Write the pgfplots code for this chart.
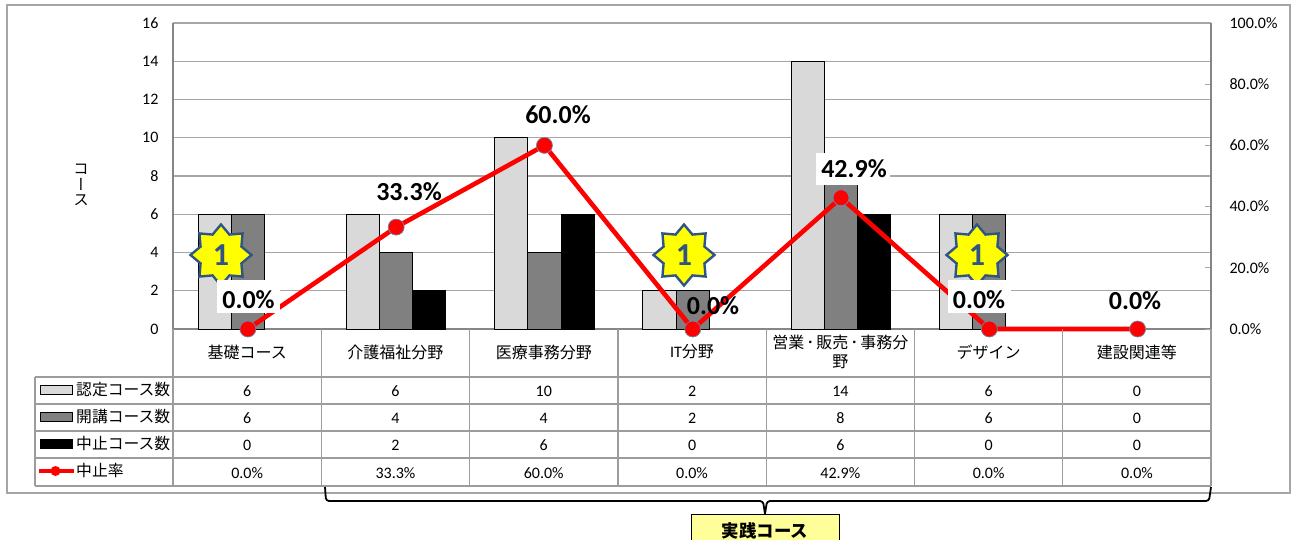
\documentclass[border=0pt]{standalone}
\usepackage{pgfplots}
\usepackage{pgfplotstable}
\pgfplotsset{compat=1.18}
\usepackage{fontspec}
\setmainfont{Carlito}
\newfontfamily\cjk{Noto Sans CJK JP}
\newfontfamily\cjkv[RawFeature=+vert]{Noto Sans CJK JP}
\usetikzlibrary{shapes.geometric}
\definecolor{gridc}{HTML}{A6A6A6}
\definecolor{axc}{HTML}{868686}
\definecolor{tabc}{HTML}{9C9C9C}
\definecolor{starb}{HTML}{2F5587}
\definecolor{sty}{HTML}{FFFF00}
\definecolor{boxy}{HTML}{FFFF99}
\pgfplotstableread{
pos a b c r
0 6 6 0 0.0
1 6 4 2 33.3
2 10 4 6 60.0
3 2 2 0 0.0
4 14 8 6 42.9
5 6 6 0 0.0
6 0 0 0 0.0
}\datatable
\begin{document}
\begin{tikzpicture}
\useasboundingbox (0,0) rectangle (1292pt,539pt);
\begin{scope}[x=1pt,y=-1pt,shift={(0pt,539pt)}]
\draw[gridc,line width=1.5pt] (7,5) rectangle (1290,493);
\end{scope}
\begin{axis}[
  at={(173pt,210pt)},anchor=south west,scale only axis,width=1038pt,height=306pt,
  xmin=-0.505,xmax=6.495,ymin=0,ymax=16,
  ytick={0,2,...,16},xtick=\empty,
  ymajorgrids,grid style={gridc,line width=1.2pt},
  axis line style={axc,line width=1.6pt},
  axis y line*=left,axis x line*=bottom,
  tick style={draw=none},
  yticklabel style={font=\fontsize{16}{18}\selectfont,xshift=-11pt},
  /pgf/number format/assume math mode=true,
  ybar=0pt,bar width=33.2pt,
  restrict y to domain=0.5:20,
]
\addplot[fill=black!15,draw=black,line width=1pt] table[x=pos,y=a]{\datatable};
\addplot[fill=black!50,draw=black,line width=1pt] table[x=pos,y=b]{\datatable};
\addplot[fill=black,draw=black,line width=1pt] table[x=pos,y=c]{\datatable};
\end{axis}
\begin{axis}[
  at={(173pt,210pt)},anchor=south west,scale only axis,width=1038pt,height=306pt,
  xmin=-0.505,xmax=6.495,ymin=0,ymax=100,
  ytick={0,20,...,100},xtick=\empty,
  axis y line*=right,axis x line=none,
  axis line style={axc,line width=1.6pt},
  tick style={gridc,line width=1pt},
  major tick length=6pt,
  yticklabel style={font=\fontsize{16}{18}\selectfont,xshift=15pt},
  yticklabel={\pgfmathprintnumber[fixed,fixed zerofill,precision=1]{\tick}\%},
  /pgf/number format/assume math mode=true,
  clip=false,
]
\addplot[red,line width=4.6pt,mark=*,mark size=8pt,mark options={fill=red,draw=starb!70,line width=0.7pt}] table[x=pos,y=r]{\datatable};
\end{axis}
\begin{scope}[x=1pt,y=-1pt,shift={(0pt,539pt)}]
% table grid
\draw[tabc,line width=1.2pt]
  (173,329)--(173,486) (35,377)--(1211,377) (35,404)--(1211,404) (35,431)--(1211,431)
  (35,458)--(1211,458) (35,486)--(1211,486) (35,377)--(35,486) (1211,329)--(1211,486);
\foreach \i in {1,...,6} \draw[tabc,line width=1.2pt] ({173+148.3*\i},329)--({173+148.3*\i},486);
% category names
\foreach \i/\t in {0/基礎コース,1/介護福祉分野,2/医療事務分野,4/{営業\kern2pt ･\kern2pt 販売\kern2pt ･\kern2pt 事務分\\野},5/デザイン,6/建設関連等}
  \node[font=\cjk\fontsize{16}{19}\selectfont,align=center,inner sep=0] at ({173+148.3*(\i+.5)},352) {\t};
\node[font=\fontsize{16}{19}\selectfont,inner sep=0] at ({173+148.3*3.5},352) {IT{\cjk 分野}};
% table values
\foreach \i/\a/\b/\c/\r in {0/6/6/0/0.0,1/6/4/2/33.3,2/10/4/6/60.0,3/2/2/0/0.0,4/14/8/6/42.9,5/6/6/0/0.0,6/0/0/0/0.0}{
  \node[font=\fontsize{16}{18}\selectfont,inner sep=0] at ({173+148.3*(\i+.5)},391) {\a};
  \node[font=\fontsize{16}{18}\selectfont,inner sep=0] at ({173+148.3*(\i+.5)},418) {\b};
  \node[font=\fontsize{16}{18}\selectfont,inner sep=0] at ({173+148.3*(\i+.5)},445) {\c};
  \node[font=\fontsize{16}{18}\selectfont,inner sep=0] at ({173+148.3*(\i+.5)},473) {\r\%};
}
% legend
\draw[fill=black!15,draw=black,line width=1pt] (40.5,385.5) rectangle (72,394.5);
\draw[fill=black!50,draw=black,line width=1pt] (40.5,412.5) rectangle (72,421.5);
\fill[black] (40,439) rectangle (72.5,449);
\draw[red,line width=4pt] (39,471)--(74,471);
\fill[red] (55.5,471) circle (5);
\foreach \y/\t in {390/認定コース数,417/開講コース数,444/中止コース数,471/中止率}
  \node[font=\cjk\fontsize{15.8}{17}\selectfont,anchor=west,inner sep=0] at (76,\y) {\t};
% axis title
\node[font=\cjkv\fontsize{15.5}{15.5}\selectfont,align=center,inner sep=0] at (81,185) {コ\\ー\\ス};
% stars
\foreach \x in {221,684,977}
  \node[star,star points=8,star point ratio=1.38,minimum size=61pt,inner sep=0,fill=sty,draw=starb,line width=2.4pt,
     text=starb,font=\bfseries\fontsize{32}{34}\selectfont] at (\x,255) {1};
% white label boxes and data labels
\fill[white] (217,280) rectangle (280,313);
\fill[white] (948,280) rectangle (1011,313);
\fill[white] (816,153) rectangle (890,185);
\foreach \x/\y/\t in {248.5/300/0.0,409/192/33.3,558/115/60.0,854/169/42.9,979/300/0.0,713/306/0.0,1135/301/0.0}
  \node[font=\bfseries\fontsize{26}{28}\selectfont,inner sep=0] at (\x,\y) {\t\%};
% brace
\draw[black,line width=1.8pt,rounded corners=3pt] (325,487)--(326,501)--(763,501)--(765,514);
\draw[black,line width=1.8pt,rounded corners=3pt] (765,514)--(767,501)--(1209,501)--(1211,487);
% box
\begin{scope}
\clip (0,0) rectangle (1292,539);
\draw[fill=boxy,draw=black,line width=1pt] (691,514) rectangle (839,560);
\node[font=\cjk\bfseries\fontsize{17.4}{19}\selectfont,inner sep=0] at (765,531) {実践コース};
\end{scope}
\end{scope}
\end{tikzpicture}
\end{document}
